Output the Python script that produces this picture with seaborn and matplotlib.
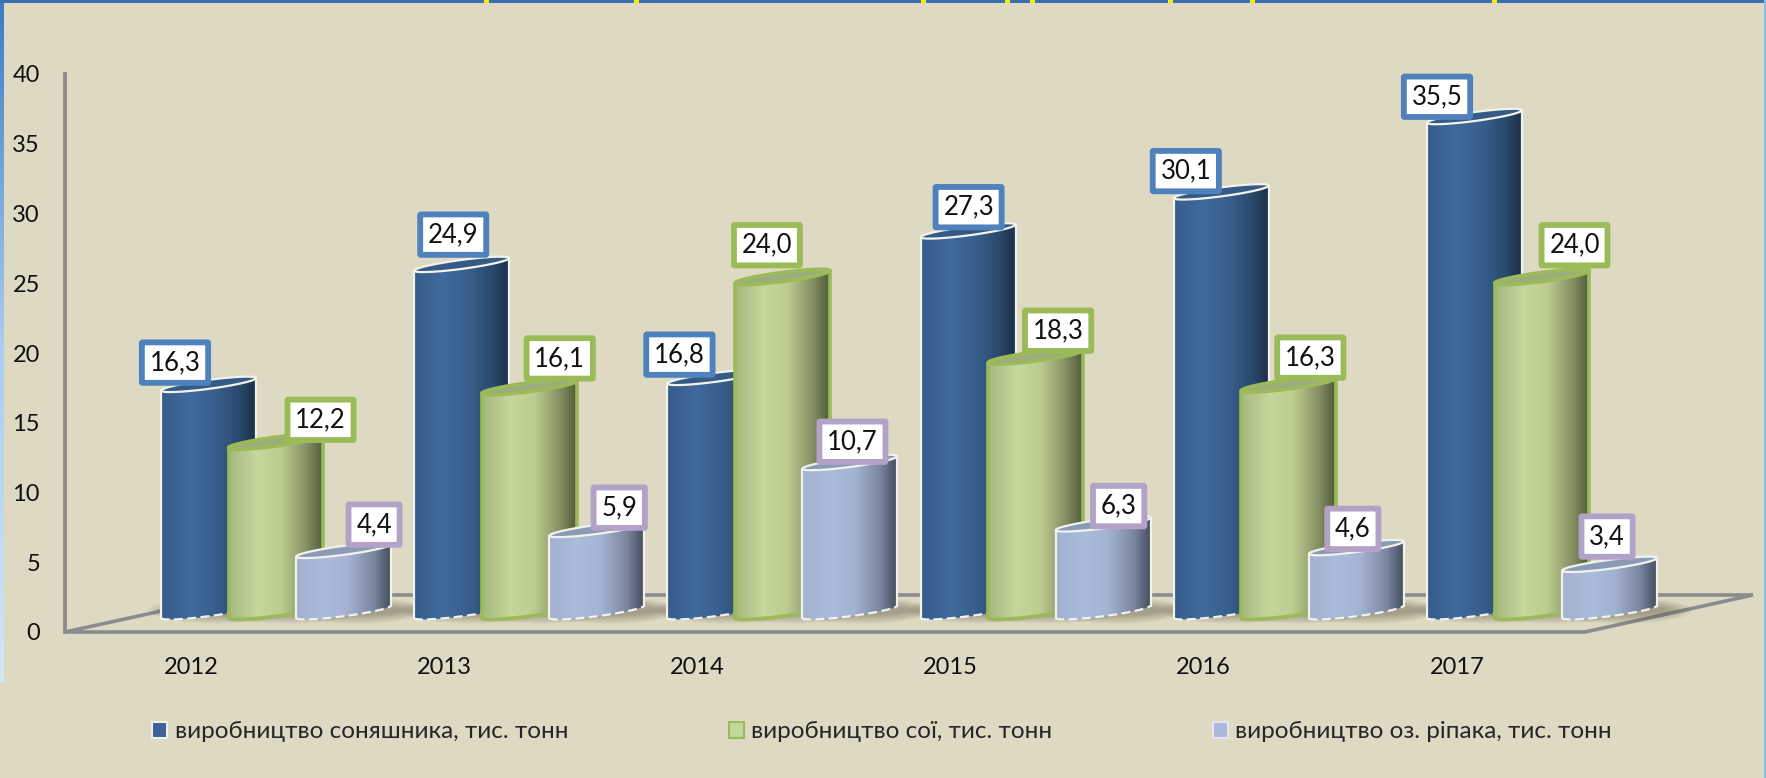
import numpy as np
import pandas as pd
import matplotlib
matplotlib.use("Agg")
import matplotlib.pyplot as plt
import seaborn as sns
from matplotlib.colors import LinearSegmentedColormap
from matplotlib.patches import Ellipse, Polygon, Rectangle
from matplotlib.path import Path
from matplotlib.transforms import Affine2D

years = ["2012", "2013", "2014", "2015", "2016", "2017"]
series_names = [
    "виробництво соняшника, тис. тонн",
    "виробництво сої, тис. тонн",
    "виробництво оз. ріпака, тис. тонн",
]
sunflower = [16.3, 24.9, 16.8, 27.3, 30.1, 35.5]
soy = [12.2, 16.1, 24.0, 18.3, 16.3, 24.0]
rapeseed = [4.4, 5.9, 10.7, 6.3, 4.6, 3.4]
y_ticks = [0, 5, 10, 15, 20, 25, 30, 35, 40]

W, H = 1766, 778
BG = "#DDD9C3"
GREY = "#8C8C8C"
PX_PER_UNIT = 13.95
PX_PER_YEAR = 253.2

# label box offset from the bar's top left corner, in pixels
label_offsets = [
    [(14, -28), (39, -36), (12, -29), (48, -30), (12, -27), (10, -26)],
    [(92, -28), (78, -35), (32, -38), (70, -32), (69, -33), (80, -38)],
    [(78, -32), (70, -28), (50, -27), (63, -24), (44, -25), (45, -34)],
]
palette = ["#3C6496", "#C3D69B", "#A9B9DA"]
box_colors = ["#4F81BD", "#9BBB59", "#B3A2C7"]
edge_colors = ["#F2F2EC", "#9BBB59", "#F2F2EC"]
cap_colors = ["#365A86", "#9DAC7C", "#8B9BB6"]
ramps = [
    ["#375C8B", "#3F6A9E", "#39618F", "#2B4A6D", "#1B2F47"],
    ["#A5B87E", "#C5D79B", "#BCCD90", "#868F63", "#4F5A38"],
    ["#A2B2CF", "#ABBBDC", "#A4B3D2", "#7A879F", "#454D5E"],
]
ramp_stops = [0.0, 0.3, 0.55, 0.82, 1.0]

sns.set_style("white")
plt.rcParams["font.family"] = ["Lato", "Noto Sans"]

fig = plt.figure(figsize=(W / 100, H / 100), dpi=100, facecolor=BG)
px = Affine2D().scale(1, -1).translate(0, H)

# wall and floor, with the real y axis and the year labels
ax_wall = fig.add_axes([65 / W, (H - 632) / H, (1753 - 65) / W, 558 / H])
ax_wall.patch.set_visible(False)
ax_wall.set_xlim((65 - 191) / PX_PER_YEAR, (1753 - 191) / PX_PER_YEAR)
ax_wall.set_ylim(0, 40)
ax_wall.set_xticks(range(len(years)), years)
ax_wall.set_yticks(y_ticks)
ax_wall.tick_params(axis="x", length=0, pad=18, labelsize=17, labelcolor="#111111")
ax_wall.tick_params(axis="y", length=0, pad=18, labelsize=17, labelcolor="#111111")
sns.despine(ax=ax_wall, bottom=True)
ax_wall.spines["left"].set_color(GREY)
ax_wall.spines["left"].set_linewidth(2.8)
ax_wall.add_patch(Polygon([(65, 632), (1585, 632), (1753, 595), (235, 595)], closed=True,
                          fill=False, edgecolor=GREY, linewidth=2.6,
                          transform=px, clip_on=False))

# bars, full figure axes so that the floor sits 14 px above the tick zero
ax = fig.add_axes([0, 0, 1, 1])
ax.patch.set_visible(False)
df = pd.DataFrame({
    "year": years * 3,
    "series": np.repeat(series_names, len(years)),
    "value": sunflower + soy + rapeseed,
})
sns.barplot(data=df, x="year", y="value", hue="series", hue_order=series_names,
            palette=palette, saturation=1, width=0.8, gap=-0.406, ax=ax)


def shapes(left, width, value):
    skew = 12.5 / PX_PER_UNIT
    bulge = 4.5 / PX_PER_UNIT
    cx = left + width / 2

    def curve(level, t):
        return np.column_stack([
            cx + width / 2 * np.cos(t),
            level + skew / 2 + skew / 2 * np.cos(t) + bulge * np.sin(t),
        ])

    front = np.linspace(np.pi, 2 * np.pi, 40)
    bottom = curve(0, front)
    top = curve(value, front)
    cap = curve(value, np.linspace(0, 2 * np.pi, 80))
    return bottom, top, cap


for h, container in enumerate(ax.containers):
    cmap = LinearSegmentedColormap.from_list("ramp", list(zip(ramp_stops, ramps[h])))
    grad = cmap(np.linspace(0, 1, 256))[None, :, :]
    z = 3 + h
    for i, bar in enumerate(container):
        left, width, value = bar.get_x(), bar.get_width(), bar.get_height()
        bottom, top, cap = shapes(left, width, value)
        body = np.vstack([bottom, top[::-1]])
        body_path = Path(np.vstack([body, body[:1]]), closed=True)
        bar.set_clip_path(body_path, ax.transData)
        bar.set_linewidth(0)
        bar.set_zorder(z)

        # soft shadow on the floor
        sx = left + width * 0.62
        for k in range(7):
            ax.add_patch(Ellipse((sx, 0.55), width * (1.5 - k * 0.08), 1.9 - k * 0.2,
                                 angle=0, facecolor="#55503C", alpha=0.07,
                                 edgecolor="none", zorder=1.5))

        im = ax.imshow(grad, extent=(left, left + width, -2, value + 2),
                       aspect="auto", interpolation="bilinear", zorder=z)
        im.set_clip_path(body_path, ax.transData)

        ax.add_patch(Polygon(cap, closed=True, facecolor=cap_colors[h], edgecolor="none", zorder=z))
        lw = 2.6 if h == 1 else 1.6
        color = edge_colors[h]
        ax.plot(cap[:, 0], cap[:, 1], color=color, lw=lw, zorder=z)
        ax.plot([bottom[0, 0], top[0, 0]], [bottom[0, 1], top[0, 1]], color=color, lw=lw, zorder=z)
        ax.plot([bottom[-1, 0], top[-1, 0]], [bottom[-1, 1], top[-1, 1]], color=color, lw=lw, zorder=z)
        ax.plot(bottom[:, 0], bottom[:, 1], color=color, lw=lw, zorder=z,
                ls=(0, (4, 2)) if h != 1 else "-")

        dx, dy = label_offsets[h][i]
        ax.annotate(f"{value:.1f}".replace(".", ","), xy=(left, value),
                    xytext=(dx * 0.72, -dy * 0.72), textcoords="offset points",
                    ha="center", va="center", fontsize=18.5, color="#111111", zorder=10,
                    bbox=dict(boxstyle="round,pad=0.3,rounding_size=0.03", facecolor="white",
                              edgecolor=box_colors[h], linewidth=4.2))

ax.set_autoscale_on(False)
ax.set_xlim((0 - 276) / PX_PER_YEAR, (W - 276) / PX_PER_YEAR)
ax.set_ylim((618 - H) / PX_PER_UNIT, 618 / PX_PER_UNIT)
ax.set_xlabel("")
ax.set_ylabel("")

sns.move_legend(ax, "center", bbox_to_anchor=(882 / W, (H - 732) / H),
                bbox_transform=fig.transFigure, ncol=3, title=None, frameon=False,
                fontsize=17.5, columnspacing=6.6, handlelength=0.62, handleheight=0.62,
                handletextpad=0.3)
for handle, edge in zip(ax.get_legend().legend_handles, ["#F0F0EA", "#9BBB59", "#E4E6EC"]):
    handle.set_edgecolor(edge)
    handle.set_linewidth(1.5)
ax.axis("off")

# slide frame bits round the picture
strip = LinearSegmentedColormap.from_list("strip", ["#3D7CC4", "#A8CDEE", "#D2E6F6"])
ax.imshow(strip(np.linspace(0, 1, 64))[:, None, :], extent=(0, 4, 682, 0), transform=px,
          aspect="auto", clip_on=False, zorder=12)
fig.add_artist(Rectangle((0, 0), W, 2.5, transform=px, facecolor="#3A70AE", edgecolor="none"))
fig.add_artist(Rectangle((W - 2, 0), 2, H, transform=px, facecolor="#8FBCE6", edgecolor="none"))
for x in [484, 634, 921, 1005, 1030, 1168, 1250, 1492]:
    fig.add_artist(Rectangle((x, 0), 5, 2.5, transform=px, facecolor="#F5F000", edgecolor="none"))

fig.savefig("out.png", dpi=100, facecolor=BG)
